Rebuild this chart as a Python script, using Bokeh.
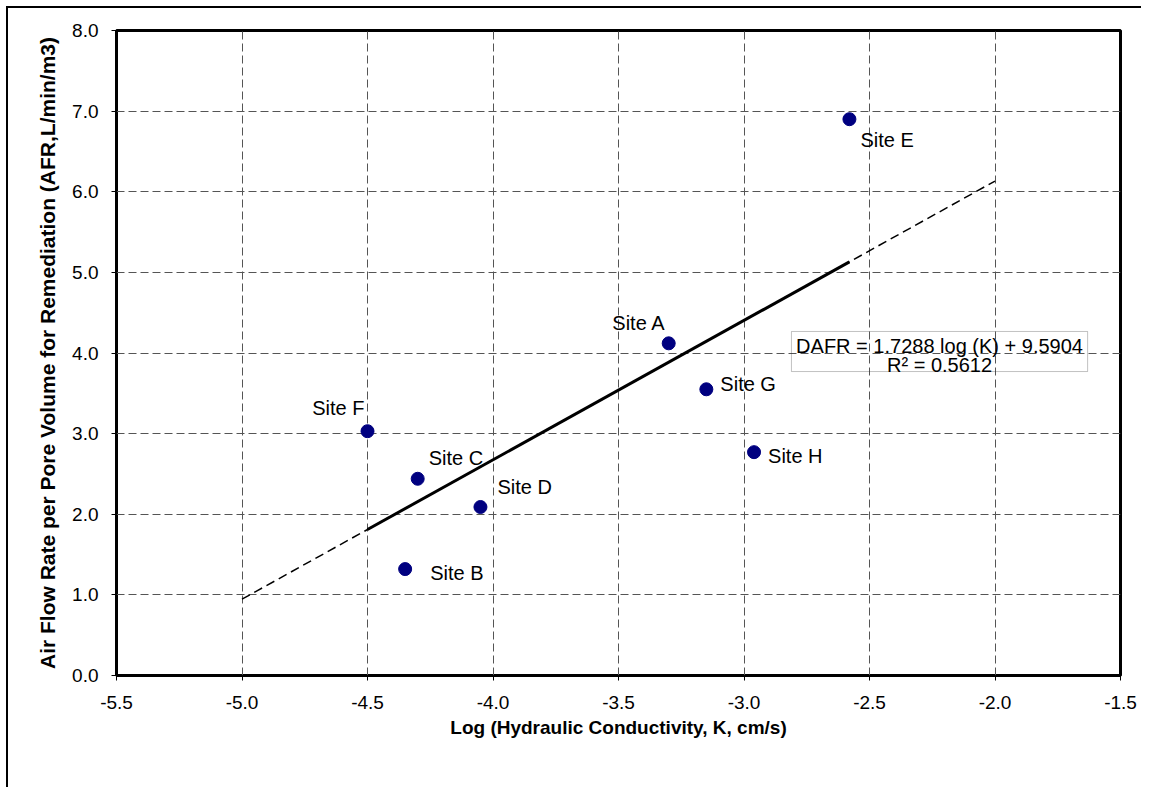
from bokeh.plotting import figure
from bokeh.models import (NumeralTickFormatter, FixedTicker, ColumnDataSource,
                          BoxAnnotation, Label)
from bokeh.core.properties import value
from bokeh.embed import file_html
from bokeh.resources import INLINE

# ---- data ----
sites = ["Site A", "Site B", "Site C", "Site D", "Site E", "Site F", "Site G", "Site H"]
log_k = [-3.30, -4.35, -4.30, -4.05, -2.58, -4.50, -3.15, -2.96]
afr = [4.12, 1.32, 2.44, 2.09, 6.90, 3.03, 3.55, 2.77]

slope = 1.7288
intercept = 9.5904
r2 = 0.5612
trend_ext = [-5.0, -2.0]          # extended (dashed) range of the trend line

x_ticks = [-5.5, -5.0, -4.5, -4.0, -3.5, -3.0, -2.5, -2.0, -1.5]
y_ticks = [0, 1, 2, 3, 4, 5, 6, 7, 8]

# label placement (screen px offsets, styling only)
lbl_align = ["right", "left", "left", "left", "left", "right", "left", "left"]
lbl_dx = [-3, 25, 11, 17, 11, -3, 14, 14]
lbl_dy = [-20, 4, -21, -20, 21, -23, -5, 4]

FONT = "Liberation Sans"

p = figure(width=1135, height=781, output_backend="svg", toolbar_location=None,
           x_range=(-5.5, -1.5), y_range=(0, 8),
           min_border_left=108, min_border_right=23, min_border_top=22,
           min_border_bottom=114)
p.margin = (6, 0, 0, 6)
p.styles = {"border-left": "2px solid black", "border-top": "2px solid black"}

p.outline_line_color = "black"
p.outline_line_width = 3
p.background_fill_color = "white"
p.border_fill_color = "white"

# grids
for g in (p.xgrid, p.ygrid):
    g.grid_line_color = "#555555"
    g.grid_line_dash = "8 4"
    g.grid_line_width = 1
p.xaxis.ticker = FixedTicker(ticks=x_ticks)
p.yaxis.ticker = FixedTicker(ticks=y_ticks)
p.xaxis.formatter = NumeralTickFormatter(format="0.0")
p.yaxis.formatter = NumeralTickFormatter(format="0.0")

for ax in (p.xaxis, p.yaxis):
    ax.axis_line_color = None
    ax.major_tick_line_color = "black"
    ax.major_tick_out = 5
    ax.major_tick_in = 0
    ax.minor_tick_line_color = None
    ax.major_label_text_font = FONT
    ax.major_label_text_font_size = "19px"
    ax.major_label_text_color = "black"
    ax.axis_label_text_font = FONT
    ax.axis_label_text_font_style = "bold"
    ax.axis_label_text_color = "black"

p.xaxis.axis_label = "Log (Hydraulic Conductivity, K, cm/s)"
p.yaxis.axis_label = "Air Flow Rate per Pore Volume for Remediation (AFR,L/min/m3)"
p.xaxis.axis_label_text_font_size = "19px"
p.yaxis.axis_label_text_font_size = "21px"
p.xaxis.major_label_standoff = 15
p.yaxis.major_label_standoff = 13
p.xaxis.axis_label_standoff = 5
p.yaxis.axis_label_standoff = 10

# trend line: dashed over extended range, solid over data range
xmin, xmax = min(log_k), max(log_k)
p.line(trend_ext, [slope * v + intercept for v in trend_ext],
       line_color="black", line_width=1.5, line_dash="9 5")
p.line([xmin, xmax], [slope * xmin + intercept, slope * xmax + intercept],
       line_color="black", line_width=3)

src = ColumnDataSource(dict(x=log_k, y=afr, name=sites, align=lbl_align,
                            dx=lbl_dx, dy=lbl_dy))
p.scatter("x", "y", source=src, size=13, fill_color="#000080",
          line_color="#000080")
p.text("x", "y", text="name", source=src, text_align="align",
       text_baseline="middle", x_offset="dx", y_offset="dy",
       text_font=value(FONT), text_font_size="20px", text_color="black")

# equation box
box = BoxAnnotation(left=-2.811, right=-1.631, bottom=3.77, top=4.267,
                    fill_color=None, line_color="#333333", line_width=1)
p.add_layout(box)
p.add_layout(Label(x=-2.221, y=4.09,
                   text=f"DAFR = {slope} log (K) + {intercept}",
                   text_align="center", text_baseline="middle",
                   text_font=FONT, text_font_size="20px", text_color="black"))
p.add_layout(Label(x=-2.221, y=3.85, text=f"R\u00b2 = {r2}",
                   text_align="center", text_baseline="middle",
                   text_font=FONT, text_font_size="20px", text_color="black"))

open("out.html", "w").write(file_html(p, INLINE))
